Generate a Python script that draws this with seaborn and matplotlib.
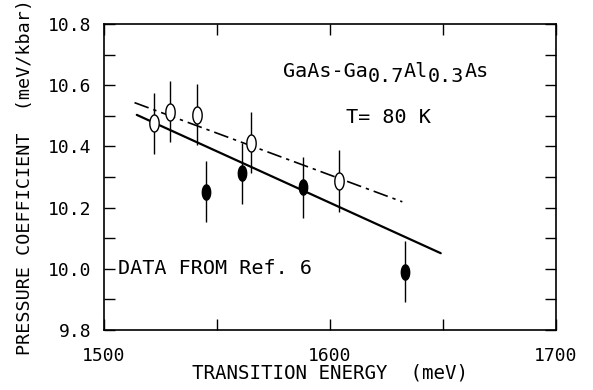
import numpy as np
import pandas as pd
import matplotlib
matplotlib.use("Agg")
import matplotlib.pyplot as plt
import seaborn as sns
from matplotlib.path import Path

# Data
open_energy = [1522, 1529, 1541, 1565, 1604]
open_coeff = [10.475, 10.513, 10.503, 10.412, 10.287]
open_err = [0.10, 0.10, 0.10, 0.10, 0.10]

filled_energy = [1545, 1561, 1588, 1633]
filled_coeff = [10.252, 10.312, 10.266, 9.99]
filled_err = [0.10, 0.10, 0.10, 0.10]

solid_energy = [1514.5, 1649]
solid_coeff = [10.503, 10.051]

dashdot_energy = [1513.5, 1632]
dashdot_coeff = [10.543, 10.219]

x_ticks = [1500, 1600, 1700]
y_ticks = [9.8, 10.0, 10.2, 10.4, 10.6, 10.8]

sns.set_style("ticks")
plt.rcParams['font.family'] = ['DejaVu Sans Mono', 'DejaVu Sans']
plt.rcParams['text.color'] = 'black'
plt.rcParams['axes.labelcolor'] = 'black'
plt.rcParams['xtick.color'] = 'black'
plt.rcParams['ytick.color'] = 'black'

fig = plt.figure(figsize=(5.93, 3.90), dpi=100)
ax = fig.add_axes([0.1754, 0.1538, 0.7622, 0.7847])

# tall ellipse marker
t = np.linspace(0, 2 * np.pi, 60)
ell = Path(np.column_stack([0.55 * np.cos(t), np.sin(t)]), closed=True)

ax.errorbar(open_energy, open_coeff, yerr=open_err, fmt='none', ecolor='black', elinewidth=1.0, capsize=0, zorder=2)
ax.errorbar(filled_energy, filled_coeff, yerr=filled_err, fmt='none', ecolor='black', elinewidth=1.0, capsize=0, zorder=2)

df_sol = pd.DataFrame({'E': solid_energy, 'P': solid_coeff})
df_dd = pd.DataFrame({'E': dashdot_energy, 'P': dashdot_coeff})
sns.lineplot(data=df_sol, x='E', y='P', ax=ax, color='black', linewidth=1.6, zorder=3)
sns.lineplot(data=df_dd, x='E', y='P', ax=ax, color='black', linewidth=1.2, zorder=3)
ax.lines[-1].set_dashes([9, 3, 2, 3])

df_open = pd.DataFrame({'E': open_energy, 'P': open_coeff})
df_fill = pd.DataFrame({'E': filled_energy, 'P': filled_coeff})
sns.scatterplot(data=df_open, x='E', y='P', ax=ax, marker=ell, s=150, facecolor='white', edgecolor='black', linewidth=1.0, zorder=4)
sns.scatterplot(data=df_fill, x='E', y='P', ax=ax, marker=ell, s=120, color='black', edgecolor='black', linewidth=1.0, zorder=4)

ax.set_xlim(1500, 1700)
ax.set_ylim(9.8, 10.8)
ax.set_xticks(x_ticks)
ax.set_xticklabels([str(v) for v in x_ticks])
ax.set_yticks(y_ticks)
ax.set_yticklabels([f"{v:.1f}" for v in y_ticks])
ax.set_xticks([1550, 1650], minor=True)
ax.set_yticks([9.9, 10.1, 10.3, 10.5, 10.7], minor=True)
ax.tick_params(which='both', direction='in', top=True, right=True, width=1.0, labelsize=13, colors='black')
ax.tick_params(which='major', length=8)
ax.tick_params(which='minor', length=8)
ax.tick_params(axis='x', which='major', pad=12)
ax.tick_params(axis='y', which='major', pad=9)
for s in ax.spines.values():
    s.set_linewidth(1.2)
    s.set_color('black')

ax.set_xlabel('TRANSITION ENERGY  (meV)', fontsize=13.8, labelpad=-1)
ax.set_ylabel('PRESSURE COEFFICIENT  (meV/kbar)', fontsize=13.2, labelpad=10)

fs = 14.5
t0 = ax.text(1579, 10.645, 'GaAs-Ga', fontsize=fs, ha='left', va='center')
t1 = ax.annotate('0.7', xy=(1, 0), xycoords=t0, xytext=(0, -4), textcoords='offset points',
                 fontsize=fs, ha='left', va='bottom')
t2 = ax.annotate('Al', xy=(1, 0), xycoords=t1, xytext=(0, 4), textcoords='offset points',
                 fontsize=fs, ha='left', va='bottom')
t3 = ax.annotate('0.3', xy=(1, 0), xycoords=t2, xytext=(0, -4), textcoords='offset points',
                 fontsize=fs, ha='left', va='bottom')
t4 = ax.annotate('As', xy=(1, 0), xycoords=t3, xytext=(0, 4), textcoords='offset points',
                 fontsize=fs, ha='left', va='bottom')
ax.text(1607, 10.496, 'T= 80 K', fontsize=fs, ha='left', va='center')
ax.text(1506, 10.0, 'DATA FROM Ref. 6', fontsize=fs, ha='left', va='center')

fig.savefig('out.png', dpi=100)
